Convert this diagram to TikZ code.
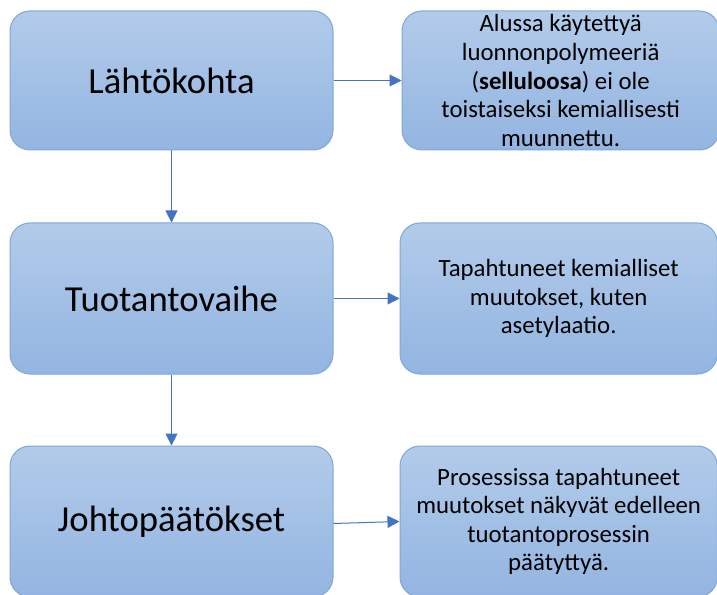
\documentclass[tikz,border=0pt]{standalone}
\usepackage{fontspec}
\setmainfont{Carlito}
\usetikzlibrary{positioning}
\usetikzlibrary{arrows.meta}
\definecolor{boxtop}{HTML}{B2CBEA}
\definecolor{boxbot}{HTML}{93B5E1}
\definecolor{boxline}{HTML}{7EA6DA}
\definecolor{linkblue}{HTML}{4472C4}

\begin{document}
\begin{tikzpicture}[x=0.75pt,y=-0.75pt,
  phase/.style={draw=boxline,line width=0.75pt,top color=boxtop,bottom color=boxbot,
    rounded corners=15pt,minimum width=242.25pt,inner sep=0pt,
    font=\fontsize{27.5}{32}\selectfont},
  note/.style={draw=boxline,line width=0.75pt,top color=boxtop,bottom color=boxbot,
    rounded corners=15pt,minimum width=238pt,inner sep=0pt,align=center,
    font=\fontsize{18.6}{21.4}\selectfont},
  link/.style={draw=linkblue,line width=0.75pt,-{Triangle[length=9pt,width=9pt]}}]
\useasboundingbox (0,0) rectangle (717,595);

\node[phase,minimum height=104.25pt](start) at (171.5,80.5){Lähtökohta};
\node[phase,minimum height=113.25pt](prod)[below=54pt of start]{Tuotantovaihe};
\node[phase,minimum height=113.25pt](concl)[below=53.25pt of prod]{Johtopäätökset};

\node[note,minimum height=104.25pt](startnote)[right=51pt of start]{Alussa käytettyä\\luonnonpolymeeriä\\(\textbf{selluloosa}) ei ole\\toistaiseksi kemiallisesti\\muunnettu.};
\node[note,minimum height=113.25pt](prodnote)[right=49.5pt of prod]{Tapahtuneet kemialliset\\muutokset, kuten\\asetylaatio.};
\node[note,minimum height=113.25pt](conclnote)[right=49.5pt of concl]{Prosessissa tapahtuneet\\muutokset näkyvät edelleen\\tuotantoprosessin\\päätyttyä.};

\draw[link](start)--(prod);
\draw[link](prod)--(concl);
\draw[link](start)--(startnote);
\draw[link](prod)--(prodnote);
\draw[link]([yshift=-1.5pt]concl.east)--(conclnote.west);

\end{tikzpicture}
\end{document}
